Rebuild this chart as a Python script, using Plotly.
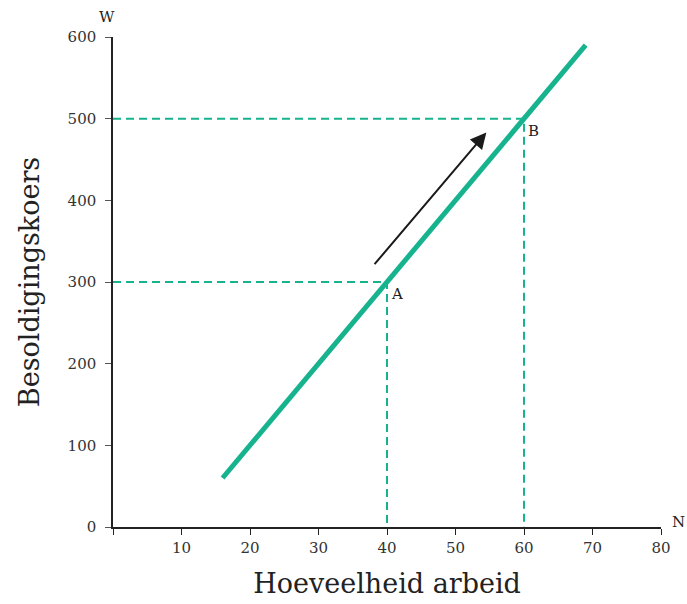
import plotly.graph_objects as go

# aanbodlijn van arbeid
lijn_x = [16, 69]
lijn_y = [60, 590]

# punten A en B
punt_namen = ["A", "B"]
punt_x = [40, 60]
punt_y = [300, 500]

# pijl langs de lijn
pijl_x = [38, 54.5]
pijl_y = [320, 483]

x_ticks = [0, 10, 20, 30, 40, 50, 60, 70, 80]
x_labels = ["", "10", "20", "30", "40", "50", "60", "70", "80"]
y_ticks = [0, 100, 200, 300, 400, 500, 600]

GROEN = "#17b28e"
FONT = "DejaVu Serif"

fig = go.Figure()

# stippellijnen naar de assen
for px_, py_ in zip(punt_x, punt_y):
    fig.add_trace(go.Scatter(
        x=[0, px_, px_], y=[py_, py_, 0],
        mode="lines",
        line=dict(color=GROEN, width=2, dash="8px,5px"),
        hoverinfo="skip", showlegend=False
    ))

fig.add_trace(go.Scatter(
    x=lijn_x, y=lijn_y, mode="lines",
    line=dict(color=GROEN, width=5),
    showlegend=False
))

# labels A en B
for naam, px_, py_ in zip(punt_namen, punt_x, punt_y):
    fig.add_annotation(
        x=px_, y=py_, text=naam, showarrow=False,
        xanchor="left", yanchor="top", xshift=2, yshift=-1,
        font=dict(family=FONT, size=15, color="#222")
    )

fig.add_annotation(
    x=pijl_x[1], y=pijl_y[1], ax=pijl_x[0], ay=pijl_y[0],
    xref="x", yref="y", axref="x", ayref="y",
    text="", showarrow=True, arrowhead=2, arrowsize=1.6,
    arrowwidth=2, arrowcolor="#1a1a1a"
)

# as-letters W en N
fig.add_annotation(x=0, y=1, xref="paper", yref="paper", text="W",
                   showarrow=False, yanchor="bottom", xanchor="right",
                   yshift=9, xshift=4,
                   font=dict(family=FONT, size=15, color="#222"))
fig.add_annotation(x=1, y=0, xref="paper", yref="paper", text="N",
                   showarrow=False, xanchor="left", yanchor="bottom",
                   xshift=9, yshift=-6,
                   font=dict(family=FONT, size=15, color="#222"))

fig.update_xaxes(
    range=[0, 80], tickvals=x_ticks, ticktext=x_labels,
    showgrid=False, zeroline=False, automargin=False,
    showline=True, linecolor="#222", linewidth=1.5,
    ticks="outside", ticklen=6, tickcolor="#222",
    tickfont=dict(family=FONT, size=15, color="#333"),
    title=dict(text="Hoeveelheid arbeid", standoff=18,
               font=dict(family=FONT, size=27, color="#222"))
)
fig.update_yaxes(
    range=[0, 600], tickvals=y_ticks,
    showgrid=False, zeroline=False, automargin=False,
    showline=True, linecolor="#222", linewidth=1.5,
    ticks="outside", ticklen=6, tickcolor="#555",
    tickfont=dict(family=FONT, size=15, color="#333"),
    ticklabelstandoff=6,
    title=dict(text="Besoldigingskoers", standoff=20,
               font=dict(family=FONT, size=27, color="#222"))
)

fig.update_layout(
    width=687, height=604,
    margin=dict(l=113, r=26, t=37, b=77),
    plot_bgcolor="white", paper_bgcolor="white",
    showlegend=False
)

# body-marge van de pagina weg, zodat de figuur precies in het venster past
fig.write_html("out.html", config={"displayModeBar": False},
               post_script="document.body.style.margin='0';")
